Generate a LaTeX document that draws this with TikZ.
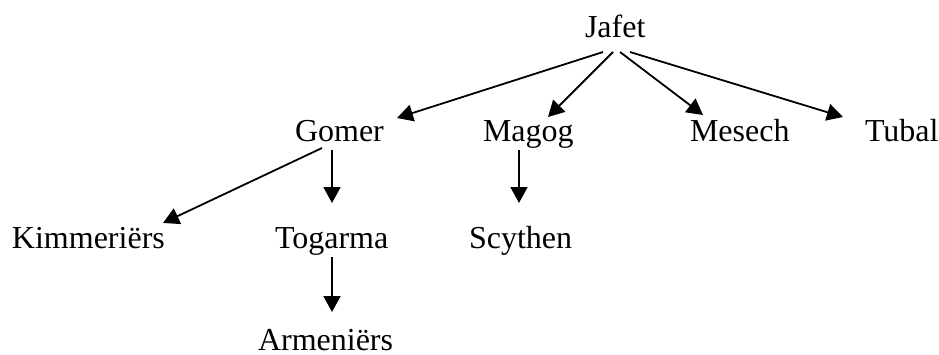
\documentclass[tikz,border=0pt]{standalone}
\usepackage{fontspec}
\setmainfont{Liberation Serif}
\usetikzlibrary{arrows.meta}
\begin{document}
\begin{tikzpicture}[x=1pt,y=-1pt,
  lbl/.style={anchor=base west,inner sep=0pt,outer sep=0pt,font=\fontsize{32}{38}\selectfont},
  arr/.style={line width=1.8pt,-{Triangle[length=16pt,width=17pt]}}]
\useasboundingbox (0,0) rectangle (939,354);
\node[lbl] (jafet) at (585,37) {Jafet};
\node[lbl] (gomer) at (295,141) {Gomer};
\node[lbl] (magog) at (483,141) {Magog};
\node[lbl] (mesech) at (690,141) {Mesech};
\node[lbl] (tubal) at (865,141) {Tubal};
\node[lbl] (kimm) at (12,248) {Kimmeriërs};
\node[lbl] (togarma) at (275,248) {Togarma};
\node[lbl] (scythen) at (469,248) {Scythen};
\node[lbl] (armen) at (258,350) {Armeniërs};
\draw[arr] ([shift={(18,15)}]jafet.base west) -- ([shift={(102,-23)}]gomer.base west);
\draw[arr] ([shift={(28,15)}]jafet.base west) -- ([shift={(65,-24)}]magog.base west);
\draw[arr] ([shift={(35,15)}]jafet.base west) -- ([shift={(13,-26)}]mesech.base west);
\draw[arr] ([shift={(45,15)}]jafet.base west) -- ([shift={(-22,-24)}]tubal.base west);
\draw[arr] ([shift={(27,7)}]gomer.base west) -- ([shift={(151,-25)}]kimm.base west);
\draw[arr] ([shift={(37,9)}]gomer.base west) -- ([shift={(57,-45)}]togarma.base west);
\draw[arr] ([shift={(36,9)}]magog.base west) -- ([shift={(50,-45)}]scythen.base west);
\draw[arr] ([shift={(57,9)}]togarma.base west) -- ([shift={(74,-38)}]armen.base west);
\end{tikzpicture}
\end{document}
